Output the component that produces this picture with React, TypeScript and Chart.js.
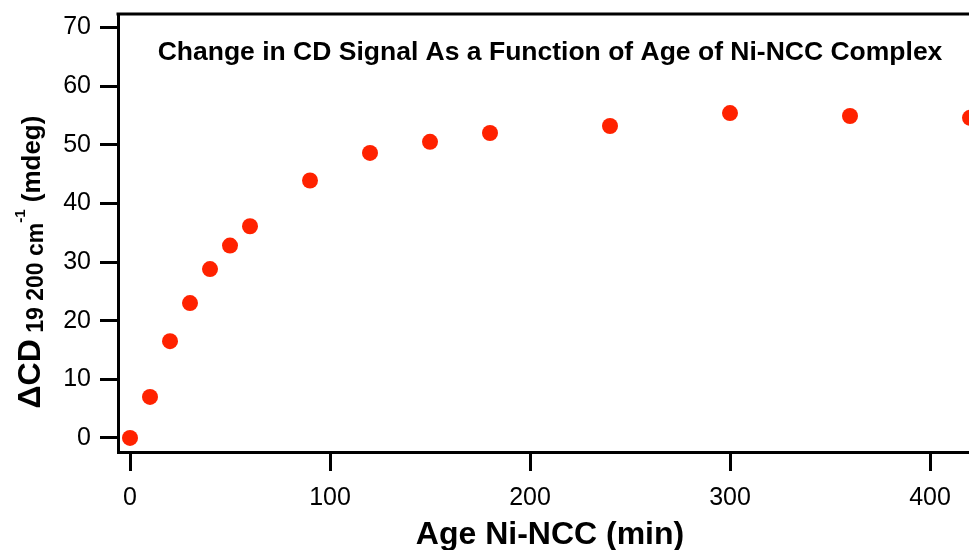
import React, { useEffect, useRef } from "react";
import { Chart, registerables } from "chart.js";

Chart.register(...registerables);

const ageMinutes = [0, 10, 20, 30, 40, 50, 60, 90, 120, 150, 180, 240, 300, 360, 420];
const deltaCD = [0, 7.0, 16.5, 23.0, 28.8, 32.8, 36.1, 43.9, 48.6, 50.5, 52.0, 53.2, 55.4, 54.9, 54.6];
const xTicks = [0, 100, 200, 300, 400];
const yTicks = [0, 10, 20, 30, 40, 50, 60, 70];

const chartTitle = "Change in CD Signal As a Function of Age of Ni-NCC Complex";
const xTitle = "Age Ni-NCC (min)";
const yTitleMain = "\u0394CD";
const yTitleSub = " 19 200 cm";
const yTitleSup = "-1";
const yTitleUnit = " (mdeg)";

const FONT = '"Liberation Sans", Arial, Helvetica, sans-serif';

const overlayPlugin = {
  id: "overlay",
  afterDraw(chart: any) {
    const { ctx, chartArea } = chart;
    ctx.save();
    // top frame line
    ctx.strokeStyle = "#000";
    ctx.lineWidth = 3;
    ctx.beginPath();
    ctx.moveTo(chartArea.left - 1.5, chartArea.top);
    ctx.lineTo(chartArea.right, chartArea.top);
    ctx.stroke();

    ctx.fillStyle = "#000";
    // inner title
    ctx.font = `bold 26.5px ${FONT}`;
    ctx.textAlign = "center";
    ctx.textBaseline = "alphabetic";
    ctx.fillText(chartTitle, 550, 60);

    // x axis title
    ctx.font = `bold 32px ${FONT}`;
    ctx.fillText(xTitle, 550, 544);

    // y axis title (rotated, composite)
    const segs = [
      { t: yTitleMain, f: `bold 32px ${FONT}`, dy: 0 },
      { t: yTitleSub, f: `bold 23px ${FONT}`, dy: 3 },
      { t: yTitleSup, f: `bold 15px ${FONT}`, dy: -15 },
      { t: yTitleUnit, f: `bold 26px ${FONT}`, dy: 0 },
    ];
    let total = 0;
    const widths: number[] = [];
    for (const s of segs) {
      ctx.font = s.f;
      const w = ctx.measureText(s.t).width;
      widths.push(w);
      total += w;
    }
    ctx.translate(40, 262);
    ctx.rotate(-Math.PI / 2);
    ctx.textAlign = "left";
    let x = -total / 2;
    segs.forEach((s, i) => {
      ctx.font = s.f;
      ctx.fillText(s.t, x, s.dy);
      x += widths[i];
    });
    ctx.restore();
  },
};

export default function App() {
  const ref = useRef<HTMLCanvasElement | null>(null);
  useEffect(() => {
    if (!ref.current) return;
    const chart = new Chart(ref.current, {
      type: "scatter",
      data: {
        datasets: [
          {
            data: ageMinutes.map((x, i) => ({ x, y: deltaCD[i] })),
            backgroundColor: "rgb(255, 34, 0)",
            borderColor: "rgb(255, 34, 0)",
            pointRadius: 8,
            pointHoverRadius: 8,
            borderWidth: 0,
            clip: false as any,
          },
        ],
      },
      plugins: [overlayPlugin],
      options: {
        responsive: false,
        animation: false,
        layout: { autoPadding: false, padding: { top: 14, right: 0, left: 0, bottom: 0 } },
        plugins: { legend: { display: false }, tooltip: { enabled: false }, title: { display: false } },
        scales: {
          x: {
            type: "linear",
            min: -6,
            max: 419.5,
            afterFit(scale: any) {
              scale.height = 98;
              scale.paddingRight = 0;
              scale.paddingLeft = 0;
            },
            afterBuildTicks(scale: any) {
              scale.ticks = xTicks.map((v) => ({ value: v }));
            },
            ticks: {
              includeBounds: false,
              color: "#000",
              font: { family: FONT, size: 25 },
              padding: 12,
              maxRotation: 0,
            },
            grid: {
              display: true,
              drawOnChartArea: false,
              drawTicks: true,
              tickLength: 19,
              tickWidth: 3,
              tickColor: "#000",
            },
            border: { display: true, color: "#000", width: 3 },
          },
          y: {
            type: "linear",
            min: -2.4,
            max: 72.3,
            afterFit(scale: any) {
              scale.width = 118;
              scale.paddingTop = 0;
              scale.paddingBottom = 0;
            },
            afterBuildTicks(scale: any) {
              scale.ticks = yTicks.map((v) => ({ value: v }));
            },
            ticks: {
              includeBounds: false,
              color: "#000",
              font: { family: FONT, size: 25 },
              padding: 9,
            },
            grid: {
              display: true,
              drawOnChartArea: false,
              drawTicks: true,
              tickLength: 18,
              tickWidth: 3,
              tickColor: "#000",
            },
            border: { display: true, color: "#000", width: 3 },
          },
        },
      },
    });
    return () => chart.destroy();
  }, []);
  return (
    <div style={{ position: "fixed", left: 0, top: 0, width: 969, height: 550, background: "#fff" }}>
      <canvas ref={ref} width={969} height={550} style={{ display: "block" }} />
    </div>
  );
}
